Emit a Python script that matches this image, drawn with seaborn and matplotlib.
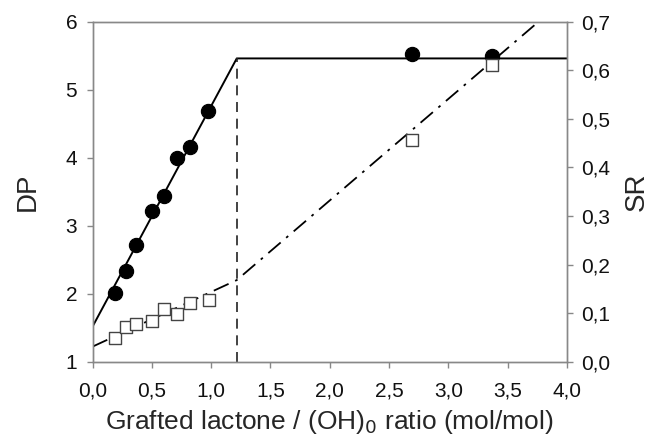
import matplotlib
matplotlib.use("Agg")
import matplotlib.pyplot as plt
import seaborn as sns
import pandas as pd

# DP data (filled circles)
dp_x = [0.19, 0.28, 0.37, 0.50, 0.60, 0.715, 0.82, 0.976, 2.69, 3.37]
dp_y = [2.01, 2.34, 2.72, 3.22, 3.43, 3.99, 4.16, 4.69, 5.53, 5.50]
# SR data (open squares)
sr_x = [0.19, 0.28, 0.37, 0.50, 0.60, 0.71, 0.82, 0.98, 2.69, 3.37]
sr_y = [0.049, 0.072, 0.078, 0.084, 0.108, 0.098, 0.120, 0.127, 0.456, 0.611]
# fitted lines
dp_fit_x = [0.0, 1.216, 4.0]
dp_fit_y = [1.515, 5.46, 5.46]
sr_fit_x = [0.0, 1.216, 3.76]
sr_fit_y = [0.031, 0.168, 0.70]
break_x = [1.216, 1.216]
break_y = [1.0, 5.46]

x_ticks = [0, 0.5, 1.0, 1.5, 2.0, 2.5, 3.0, 3.5, 4.0]
x_labels = ["0,0", "0,5", "1,0", "1,5", "2,0", "2,5", "3,0", "3,5", "4,0"]
dp_ticks = [1, 2, 3, 4, 5, 6]
dp_labels = ["1", "2", "3", "4", "5", "6"]
sr_ticks = [0.0, 0.1, 0.2, 0.3, 0.4, 0.5, 0.6, 0.7]
sr_labels = ["0,0", "0,1", "0,2", "0,3", "0,4", "0,5", "0,6", "0,7"]

sns.set_style("white")
plt.rcParams['font.family'] = ['Liberation Sans', 'DejaVu Sans']

fig = plt.figure(figsize=(6.54, 4.44), dpi=100)
ax = fig.add_axes([92.5/654, 1-361.7/444, (567-92.5)/654, 340/444])
ax2 = ax.twinx()

sns.lineplot(x=dp_fit_x, y=dp_fit_y, ax=ax, color="black", lw=1.4, sort=False,
             estimator=None)
sns.lineplot(x=break_x, y=break_y, ax=ax, color="#222222", lw=1.2, sort=False,
             estimator=None, linestyle=(0, (6, 4)))
sns.scatterplot(x=dp_x, y=dp_y, ax=ax, color="black", s=105, edgecolor="black",
                marker="o", zorder=5)

sns.lineplot(x=sr_fit_x, y=sr_fit_y, ax=ax2, color="black", lw=1.3, sort=False,
             estimator=None, linestyle=(0, (9, 4, 1.5, 4)))
sns.scatterplot(x=sr_x, y=sr_y, ax=ax2, facecolor="white", s=80,
                edgecolor="#444444", linewidth=1.0, marker="s", zorder=5)

ax.set_xlim(0, 4)
ax.set_ylim(1, 6)
ax2.set_ylim(0, 0.7)
ax.set_xticks(x_ticks)
ax.set_xticklabels(x_labels)
ax.set_yticks(dp_ticks)
ax.set_yticklabels(dp_labels)
ax2.set_yticks(sr_ticks)
ax2.set_yticklabels(sr_labels)

spine_col = "#888888"
for a in (ax, ax2):
    for s in a.spines.values():
        s.set_color(spine_col)
        s.set_linewidth(1.0)
    a.tick_params(axis="both", which="both", direction="out", length=4,
                  width=1.0, color=spine_col, labelsize=15, labelcolor="#111111")
ax.tick_params(axis="y", left=True, right=False, pad=7)
ax.tick_params(axis="x", bottom=True, pad=10)
ax2.tick_params(axis="y", right=True, left=False, pad=6)

ax.set_xlabel("Grafted lactone / (OH)$_0$ ratio (mol/mol)", fontsize=19, labelpad=6)
ax.set_ylabel("DP", fontsize=20, labelpad=18)
ax2.set_ylabel("SR", fontsize=20, labelpad=10)

fig.savefig("out.png", dpi=100)
